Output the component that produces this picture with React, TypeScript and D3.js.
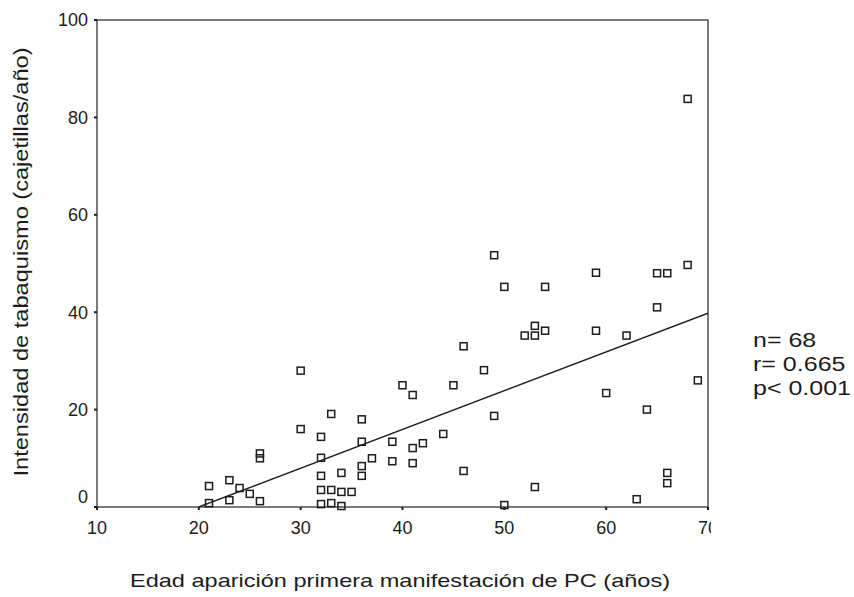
import React from "react";
import * as d3 from "d3";

const ageX: number[] = [
  21, 21, 23, 23, 24, 25, 26, 26, 26, 30, 30, 32, 32, 32, 32, 32, 33, 33, 33, 34, 34, 34, 35,
  36, 36, 36, 36, 37, 39, 39, 40, 41, 41, 41, 42, 44, 45, 46, 46, 48, 49, 49, 50, 50, 52, 53,
  53, 53, 54, 54, 59, 59, 60, 62, 63, 64, 65, 65, 66, 66, 66, 68, 68, 69,
];
const intensityY: number[] = [
  4.3, 0.8, 5.5, 1.4, 3.9, 2.7, 11, 10, 1.2, 28, 16, 14.4, 10.1, 6.4, 3.5, 0.6, 19.1, 3.5, 0.8,
  7, 3.1, 0.2, 3.1, 18, 13.4, 8.4, 6.4, 10, 13.4, 9.4, 25, 23, 12.1, 9, 13.1, 15, 25, 33, 7.4,
  28.1, 51.7, 18.7, 45.2, 0.4, 35.2, 37.2, 35.2, 4.1, 45.2, 36.2, 48.1, 36.2, 23.4, 35.2, 1.6,
  20, 48, 41, 48, 7, 4.9, 83.8, 49.7, 26,
];

const xTicks: number[] = [10, 20, 30, 40, 50, 60, 70];
const yTicks: number[] = [0, 20, 40, 60, 80, 100];
const fitSlope = 0.796;
const fitIntercept = -15.92;
const statLines: string[] = ["n= 68", "r= 0.665", "p< 0.001"];

const xTitle = "Edad aparición primera manifestación de PC (años)";
const yTitle = "Intensidad de tabaquismo (cajetillas/año)";

export default function App() {
  const W = 854;
  const H = 597;
  const left = 97, right = 708, top = 20, bottom = 507;
  const x = d3.scaleLinear().domain([10, 70]).range([left, right]);
  const y = d3.scaleLinear().domain([0, 100]).range([bottom, top]);
  const font = "'Liberation Sans', Arial, Helvetica, sans-serif";
  const ink = "#1c1c1c";

  const fitX0 = -fitIntercept / fitSlope;
  const fitLine = d3.line<number>()
    .x((d) => x(d))
    .y((d) => y(fitSlope * d + fitIntercept))([fitX0, 70]);

  return (
    <svg width={W} height={H} style={{ position: "absolute", left: 0, top: 0, background: "#fff" }}
      fontFamily={font}>
      <defs>
        <clipPath id="plotClip">
          <rect x={left} y={top} width={right - left} height={bottom - top} />
        </clipPath>
        <clipPath id="tickClip">
          <rect x={0} y={0} width={711} height={H} />
        </clipPath>
      </defs>
      <rect x={0} y={0} width={W} height={H} fill="#fff" />
      {/* frame */}
      <rect x={left} y={top} width={right - left} height={bottom - top} fill="none"
        stroke="#333" strokeWidth={1.3} />
      {/* y ticks */}
      {yTicks.map((t) => (
        <g key={"y" + t}>
          <line x1={left - 3} x2={left} y1={y(t)} y2={y(t)} stroke={ink} strokeWidth={2} />
          <text x={left - 9} y={y(t) + (t === 0 ? -10 : 0)} dy="0.36em" textAnchor="end"
            fontSize={18} fill={ink}>{t}</text>
        </g>
      ))}
      {/* x ticks */}
      <g clipPath="url(#tickClip)">
        {xTicks.map((t) => (
          <g key={"x" + t}>
            <line x1={x(t)} x2={x(t)} y1={bottom} y2={bottom + 3} stroke={ink} strokeWidth={2} />
            <text x={x(t)} y={534} textAnchor="middle" fontSize={18} fill={ink}>{t}</text>
          </g>
        ))}
      </g>
      {/* fit line */}
      <path d={fitLine || ""} fill="none" stroke={ink} strokeWidth={1.4} clipPath="url(#plotClip)" />
      {/* points */}
      {ageX.map((a, i) => (
        <rect key={"p" + i} x={x(a) - 3.5} y={y(intensityY[i]) - 3.5} width={7} height={7}
          fill="none" stroke={ink} strokeWidth={1.5} />
      ))}
      {/* axis titles */}
      <text x={400} y={587} textAnchor="middle" fontSize={19} fill={ink}
        textLength={540} lengthAdjust="spacingAndGlyphs">{xTitle}</text>
      <text transform={`translate(28,262) rotate(-90)`} textAnchor="middle" fontSize={20} fill={ink}
        textLength={429} lengthAdjust="spacingAndGlyphs">{yTitle}</text>
      {/* stats */}
      <g transform="translate(753,0) scale(1.22,1)">
        {statLines.map((s, i) => (
          <text key={s} x={0} y={347 + i * 24} fontSize={20.5} fill={ink}>{s}</text>
        ))}
      </g>
    </svg>
  );
}
